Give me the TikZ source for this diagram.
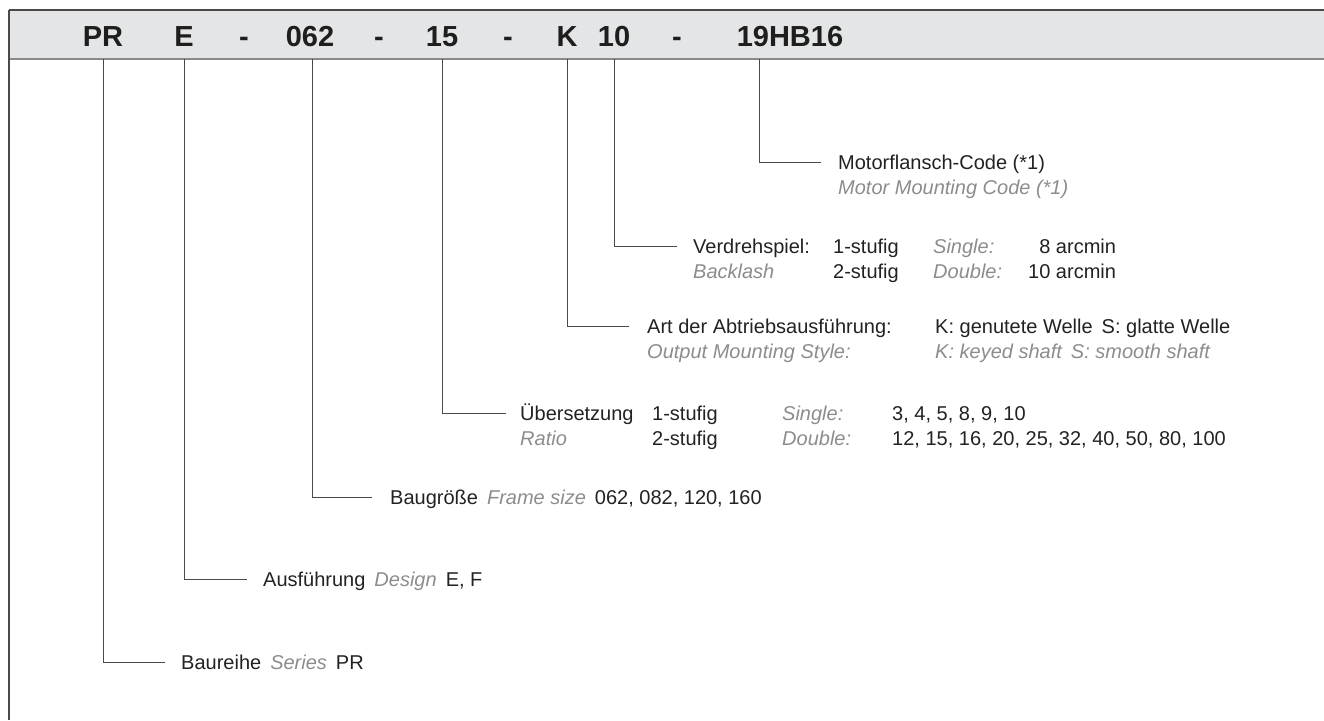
\documentclass[tikz,border=0pt]{standalone}
\usepackage{fontspec}
\setmainfont{Liberation Sans}
\definecolor{hdrfill}{HTML}{E4E5E6}
\definecolor{hdrtop}{HTML}{4A4A4A}
\definecolor{hdrbot}{HTML}{8A8A8A}
\definecolor{hdrtext}{HTML}{1E1E1E}
\definecolor{labtext}{HTML}{222222}
\definecolor{subgrey}{HTML}{8C8C8C}
\definecolor{linegrey}{HTML}{4A4A4A}
\tikzset{
  hdr/.style={font=\fontsize{29}{31}\selectfont\bfseries, text=hdrtext, inner sep=0pt, anchor=base},
  lab/.style={font=\fontsize{20}{22}\selectfont, text=labtext, inner sep=0pt, anchor=base west},
  sub/.style={font=\fontsize{20}{22}\selectfont\itshape, text=subgrey, inner sep=0pt, anchor=base west},
  conn/.style={draw=linegrey, line width=1pt},
}
\newcommand{\gp}{\hspace{0.45em}}
\begin{document}
\begin{tikzpicture}[x=1pt,y=-1pt]
\useasboundingbox (0,0) rectangle (1324,720);
% header bar
\fill[hdrfill] (9,10) rectangle (1324,59);
\draw[hdrtop, line width=1.2pt] (9,10) -- (1324,10);
\draw[hdrbot, line width=2pt] (9,59) -- (1324,59);
\draw[linegrey, line width=1.1pt] (9,10) -- (9,720);
% header codes
\node[hdr] (hPR) at (103,46) {PR};
\node[hdr] (hE) at (184,46) {E};
\node[hdr] (d1) at (244,46) {-};
\node[hdr] (h062) at (310,46) {062};
\node[hdr] (d2) at (379,46) {-};
\node[hdr] (h15) at (442,46) {15};
\node[hdr] (d3) at (508,46) {-};
\node[hdr] (hK) at (567,46) {K};
\node[hdr] (h10) at (614,46) {10};
\node[hdr] (d4) at (677,46) {-};
\node[hdr] (h19) at (790,46) {19HB16};
% connector start points (bottom of header)
\coordinate (t1) at (103,59);
\coordinate (t2) at (184,59);
\coordinate (t3) at (312,59);
\coordinate (t4) at (442,59);
\coordinate (t5) at (567,59);
\coordinate (t6) at (614,59);
\coordinate (t7) at (759,59);
% connector end points
\coordinate (e1) at (165,662);
\coordinate (e2) at (247,579);
\coordinate (e3) at (372,497);
\coordinate (e4) at (506,413);
\coordinate (e5) at (629,326);
\coordinate (e6) at (677,246);
\coordinate (e7) at (821,162);
\draw[conn] (t1) |- (e1);
\draw[conn] (t2) |- (e2);
\draw[conn] (t3) |- (e3);
\draw[conn] (t4) |- (e4);
\draw[conn] (t5) |- (e5);
\draw[conn] (t6) |- (e6);
\draw[conn] (t7) |- (e7);
% Motorflansch
\node[lab] (m1) at (838,169) {Motorflansch-Code (*1)};
\node[sub] (m2) at (838,194) {Motor Mounting Code (*1)};
% Verdrehspiel
\node[lab] (v1) at (693,253) {Verdrehspiel:};
\node[lab] (v2) at (833,253) {1-stufig};
\node[sub] (v3) at (933,253) {Single:};
\node[lab] (v4) at (1028,253) {\phantom{1}8 arcmin};
\node[sub] (v5) at (693,278) {Backlash};
\node[lab] (v6) at (833,278) {2-stufig};
\node[sub] (v7) at (933,278) {Double:};
\node[lab] (v8) at (1028,278) {10 arcmin};
% Abtrieb
\node[lab] (a1) at (647,333) {Art der Abtriebsausführung:};
\node[lab] (a2) at (935,333) {K: genutete Welle\gp S: glatte Welle};
\node[sub] (a3) at (647,358) {Output Mounting Style:};
\node[sub] (a4) at (935,358) {K: keyed shaft\gp S: smooth shaft};
% Übersetzung
\node[lab] (u1) at (520,420) {Übersetzung};
\node[lab] (u2) at (652,420) {1-stufig};
\node[sub] (u3) at (782,420) {Single:};
\node[lab] (u4) at (892,420) {3, 4, 5, 8, 9, 10};
\node[sub] (u5) at (520,445) {Ratio};
\node[lab] (u6) at (652,445) {2-stufig};
\node[sub] (u7) at (782,445) {Double:};
\node[lab] (u8) at (892,445) {12, 15, 16, 20, 25, 32, 40, 50, 80, 100};
% Baugröße
\node[lab] (b1) at (390,504) {Baugröße\gp\textcolor{subgrey}{\itshape Frame size}\gp 062, 082, 120, 160};
% Ausführung
\node[lab] (f1) at (263,586) {Ausführung\gp\textcolor{subgrey}{\itshape Design}\gp E, F};
% Baureihe
\node[lab] (r1) at (181,669) {Baureihe\gp\textcolor{subgrey}{\itshape Series}\gp PR};
\end{tikzpicture}
\end{document}
